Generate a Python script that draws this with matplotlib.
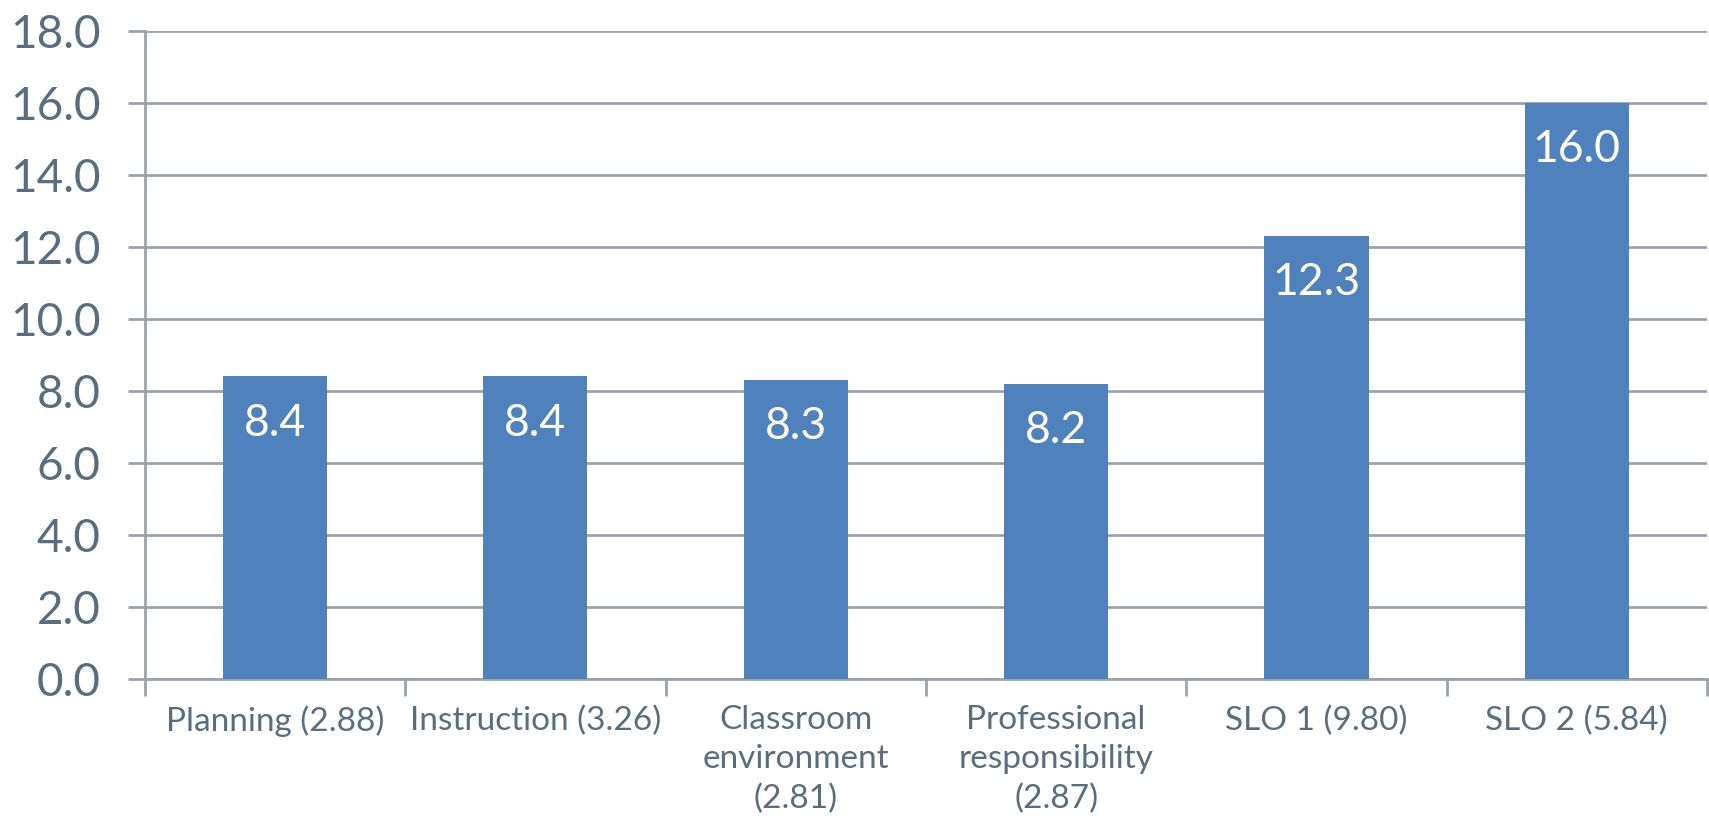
import matplotlib
matplotlib.use("Agg")
from matplotlib import pyplot as plt
import numpy as np

categories = ["Planning (2.88)", "Instruction (3.26)", "Classroom\nenvironment\n(2.81)",
              "Professional\nresponsibility\n(2.87)", "SLO 1 (9.80)", "SLO 2 (5.84)"]
values = [8.4, 8.4, 8.3, 8.2, 12.3, 16.0]
yticks = [0, 2, 4, 6, 8, 10, 12, 14, 16, 18]

text_color = "#596d81"
grid_color = "#9aa3ad"
bar_color = "#4f81bd"

plt.rcParams["font.family"] = ["Lato", "DejaVu Sans"]

fig = plt.figure(figsize=(17.09, 8.16), dpi=100)
ax = fig.add_axes([0.0848, 0.168, 0.914, 0.7945])

x = np.arange(len(categories))
bars = ax.bar(x, values, width=0.4, color=bar_color, zorder=3)

# value labels sit inside the top of each bar
for xi, v in zip(x, values):
    ax.annotate(f"{v:.1f}", (xi, v), xytext=(0, -19), textcoords="offset points",
                ha="center", va="top", color="white", fontsize=32)

ax.set_xlim(-0.5, len(categories) - 0.5)
ax.set_ylim(0, 18)
ax.set_yticks(yticks)
ax.set_yticklabels([f"{t:.1f}" for t in yticks])
ax.yaxis.grid(True, color=grid_color, linewidth=2, zorder=0)

ax.set_xticks(x)
ax.set_xticklabels(categories, linespacing=1.38)
ax.set_xticks(np.arange(-0.5, len(categories)), minor=True)
ax.tick_params(axis="x", which="major", length=0, pad=19, labelsize=24, labelcolor=text_color)
ax.tick_params(axis="x", which="minor", length=12, width=2, color=grid_color)
ax.tick_params(axis="y", length=12, width=2, color=grid_color, pad=20,
               labelsize=33, labelcolor=text_color)

for side in ["top", "right"]:
    ax.spines[side].set_visible(False)
for side in ["left", "bottom"]:
    ax.spines[side].set_color(grid_color)
    ax.spines[side].set_linewidth(2)

fig.savefig("out.png", dpi=100)
